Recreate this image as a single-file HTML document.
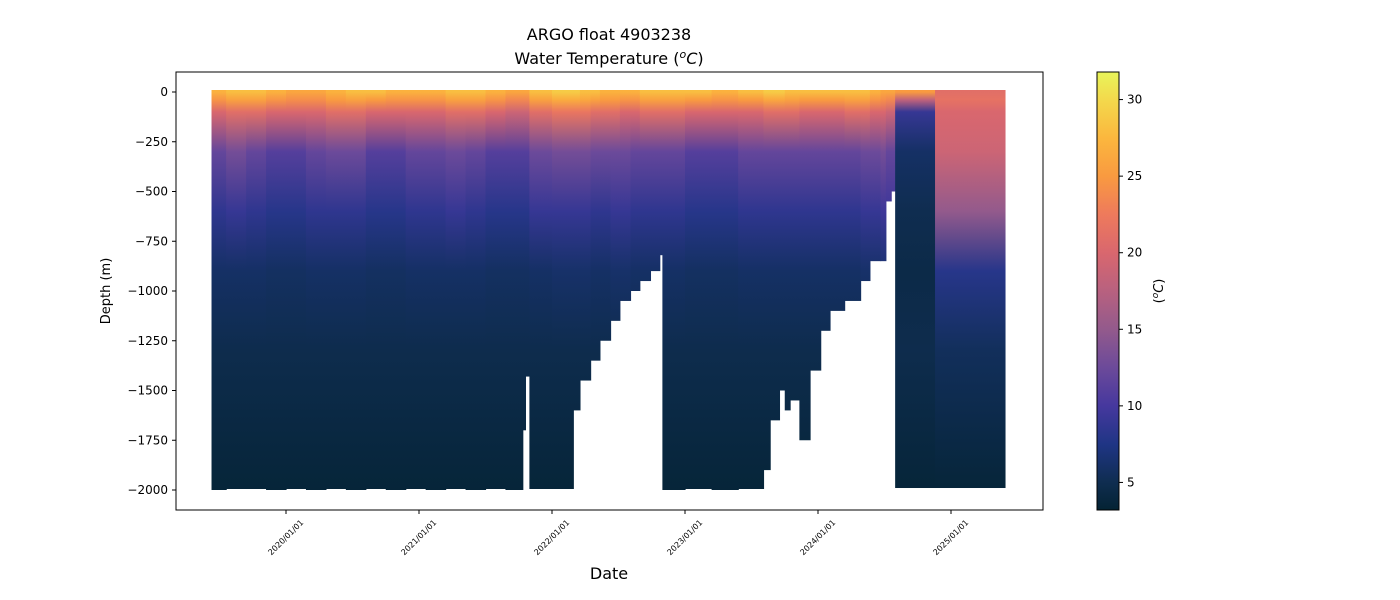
<!DOCTYPE html>
<html><head><meta charset="utf-8"><style>
body{margin:0;background:#fff;}
svg{display:block;font-family:"DejaVu Sans","Liberation Sans",sans-serif;}
</style></head><body>
<svg id="chart" width="1400" height="600" xmlns="http://www.w3.org/2000/svg">
<defs id="defs"></defs>
<text x="609" y="40" font-size="16" text-anchor="middle">ARGO float 4903238</text>
<text x="609" y="64" font-size="16" text-anchor="middle">Water Temperature (<tspan font-style="italic" baseline-shift="super" font-size="11">o</tspan><tspan font-style="italic">C</tspan>)</text>
<g id="plot"></g>
<rect x="176" y="72" width="867" height="438" fill="none" stroke="#000" stroke-width="1"/>
<g id="yaxis"></g>
<g id="xaxis"></g>
<text x="0" y="0" font-size="13" text-anchor="middle" transform="translate(110,291) rotate(-90)">Depth (m)</text>
<text x="609" y="579" font-size="16" text-anchor="middle">Date</text>
<rect x="1097" y="72" width="22" height="438" fill="url(#cbgrad)" stroke="#000" stroke-width="1"/>
<g id="cbaxis"></g>
<text x="0" y="0" font-size="13" text-anchor="middle" transform="translate(1163,291) rotate(-90)">(<tspan font-style="italic" baseline-shift="super" font-size="9">o</tspan><tspan font-style="italic">C</tspan>)</text>
</svg>
<script>
const dates=[2019.44,2019.55,2019.70,2019.85,2020.00,2020.15,2020.30,2020.45,2020.60,2020.75,2020.90,2021.05,2021.20,2021.35,2021.50,2021.65,2021.78,2021.80,2021.83,2022.00,2022.16,2022.21,2022.29,2022.36,2022.44,2022.51,2022.59,2022.66,2022.74,2022.81,2022.83,2023.00,2023.20,2023.40,2023.59,2023.64,2023.71,2023.75,2023.79,2023.86,2023.94,2024.02,2024.09,2024.20,2024.32,2024.39,2024.47,2024.51,2024.55,2024.58,2024.88];
const endDate=2025.41;
const maxDepth=[2000,1995,1995,2000,1995,2000,1995,2000,1995,2000,1995,2000,1995,2000,1995,2000,1700,1430,1995,1995,1600,1450,1350,1250,1150,1050,1000,950,900,820,2000,1995,2000,1995,1900,1650,1500,1600,1550,1750,1400,1200,1100,1050,950,850,850,550,500,1990,1990];
const t0=[27,28,28,27,26,26,27,28,28,27,27,27,28,28,27,26,26,26,28,29,29,28,28,27,27,27,27,28,28,28,28,28,27,28,29,29,29,28,28,28,28,28,28,28,28,27,26,26,26,25,21];
const t100=[20,21,21,20,20,20,21,21,20,20,20,20,21,21,20,19,19,19,21,22,22,22,21,21,21,20,20,21,21,21,21,20,20,20,21,21,21,21,21,20,20,20,20,21,21,20,20,19,19,9,20];
const t300=[12,13,12,11,11,12,12.5,12.5,11,11,12,12,12.5,12,11,11,11,11,12.5,13,13,13,12.5,12.5,12.5,12.5,12,12,12,12,12,11,11,12,12,12,12,12,12,12,12,12,12,12,12.5,12.5,13,12,12,6,19];
const t600=[8.5,9,8.5,8,8,8.5,8.5,8.5,8,8,8.5,8.5,9,8.5,8,8,8,8,9,9,9,9,8.5,8.5,9,9,8.5,8.5,8.5,8.5,8.5,8,8,8.5,8.5,8.5,8.5,8.5,8.5,8.5,8.5,8.5,8.5,8.5,9,9,9.5,9.5,9.5,5,15];
const t900=[6,6,6,5.8,5.8,6,6,6,5.8,5.8,6,6,6,6,5.8,5.8,5.8,5.8,6,6.2,6.2,6.2,6,6,6.2,6.2,6,6,6,6,6,5.8,5.8,6,6,6,6,6,6,6,6,6,6,6,6.2,6.2,6.5,6.5,6.5,4.5,8];
const yTicks=[0,-250,-500,-750,-1000,-1250,-1500,-1750,-2000];
const xTicks=[2020,2021,2022,2023,2024,2025];
const xTickLabels=["2020/01/01","2021/01/01","2022/01/01","2023/01/01","2024/01/01","2025/01/01"];
const cbTicks=[5,10,15,20,25,30];
const cmapT=[3.2,5,7.5,10,12.5,15,17.5,20,22.5,25,27.5,30,31.8];
const cmapC=["#042333","#0f2d50","#1f3585","#46389e","#6c4a9a","#935a8c","#b8617f","#d9676e","#ee7a5c","#f99a40","#fbb73e","#f3d94c","#e8f55a"];
const tMin=3.2,tMax=31.8;
const NS="http://www.w3.org/2000/svg";
const X=yr=>286+(yr-2020)*133;
const Y=d=>92+d*0.199;
function hex(c){return [1,3,5].map(i=>parseInt(c.substr(i,2),16));}
function color(t){
  t=Math.max(tMin,Math.min(tMax,t));
  for(let i=0;i<cmapT.length-1;i++){
    if(t<=cmapT[i+1]){const f=(t-cmapT[i])/(cmapT[i+1]-cmapT[i]);const a=hex(cmapC[i]),b=hex(cmapC[i+1]);
      return "rgb("+a.map((v,k)=>Math.round(v+(b[k]-v)*f)).join(",")+")";}
  }
  return cmapC[cmapC.length-1];
}
function el(tag,attrs,parent){const e=document.createElementNS(NS,tag);for(const k in attrs)e.setAttribute(k,attrs[k]);parent.appendChild(e);return e;}
const defs=document.getElementById('defs');
const cg=el('linearGradient',{id:'cbgrad',x1:0,y1:1,x2:0,y2:0},defs);
cmapT.forEach((t,i)=>el('stop',{offset:((t-tMin)/(tMax-tMin)),'stop-color':cmapC[i]},cg));
const plot=document.getElementById('plot');
dates.forEach((d,i)=>{
  const x1=X(d),x2=X(i<dates.length-1?dates[i+1]:endDate);
  const g=el('linearGradient',{id:'pg'+i,gradientUnits:'userSpaceOnUse',x1:0,y1:Y(0),x2:0,y2:Y(2000)},defs);
  const last=i===dates.length-1;
  const prof=[[0,t0[i]],[40,(t0[i]+t100[i])/2+1],[100,t100[i]],[300,t300[i]],[600,t600[i]],[900,t900[i]],[1300,last?5.5:4.8],[2000,3.6]];
  prof.forEach(p=>el('stop',{offset:p[0]/2000,'stop-color':color(p[1])},g));
  const last2=i===dates.length-1;
  const r=el('rect',{x:x1,y:Y(0)-2,width:Math.max(0.5,x2-x1)+(last2?0:0.6),height:Y(maxDepth[i])-Y(0)+2,fill:'url(#pg'+i+')'},plot);
  
  
});
const ya=document.getElementById('yaxis');
yTicks.forEach(v=>{
  const y=Y(-v);
  el('line',{x1:172,x2:176,y1:y,y2:y,stroke:'#000'},ya);
  const t=el('text',{x:168,y:y+4,'font-size':12,'text-anchor':'end'},ya);
  t.textContent=(v<0?'\u2212'+(-v):''+v);
  
  
});
const xa=document.getElementById('xaxis');
xTicks.forEach((v,i)=>{
  const x=X(v);
  el('line',{x1:x,x2:x,y1:510,y2:514,stroke:'#000'},xa);
  const t=el('text',{x:0,y:0,'font-size':8,'text-anchor':'end',transform:'translate('+(x+18)+',523) rotate(-45)'},xa);
  t.textContent=xTickLabels[i];
  
  
});
const ca=document.getElementById('cbaxis');
cbTicks.forEach(v=>{
  const y=510-(v-tMin)/(tMax-tMin)*438;
  el('line',{x1:1119,x2:1123,y1:y,y2:y,stroke:'#000'},ca);
  const t=el('text',{x:1127,y:y+4,'font-size':12},ca);
  t.textContent=v;
  
  
});
</script>
</body></html>
